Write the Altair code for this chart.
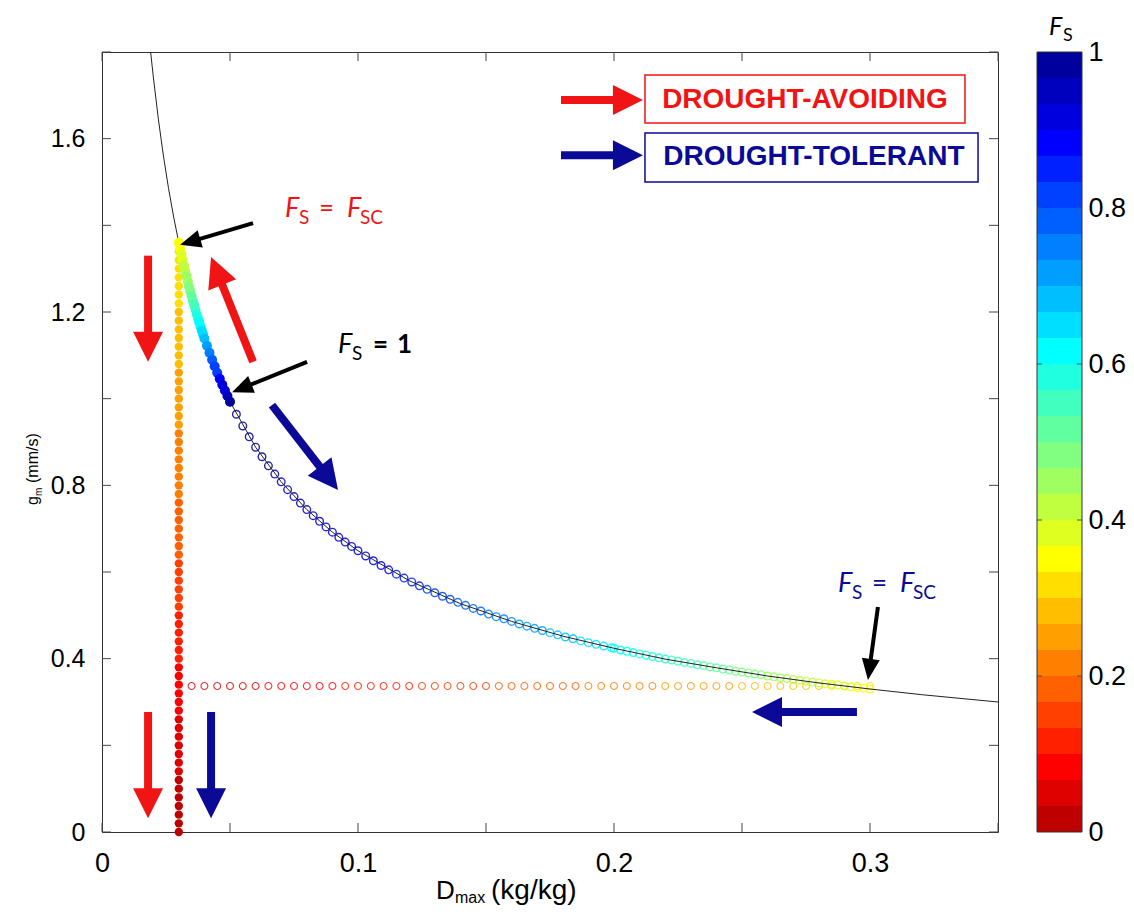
import math
import altair as alt
import pandas as pd

# ---------------- values ----------------
# colour map of the figure: MATLAB jet(30), flipped (F_S = 0 dark red ... F_S = 1 navy)
FS_COLORS = ["#bf0000", "#df0000", "#ff0000", "#ff2000", "#ff4000", "#ff6000",
             "#ff8000", "#ff9f00", "#ffbf00", "#ffdf00", "#ffff00", "#dfff20",
             "#bfff40", "#9fff60", "#80ff80", "#60ff9f", "#40ffbf", "#20ffdf",
             "#00ffff", "#00dfff", "#00bfff", "#009fff", "#0080ff", "#0060ff",
             "#0040ff", "#0020ff", "#0000ff", "#0000df", "#0000bf", "#00009f"]
CB_TICKS = [0, 0.2, 0.4, 0.6, 0.8, 1]

# thin black curve
CURVE_D = [0.019, 0.020, 0.022, 0.024, 0.026, 0.028, 0.030, 0.035, 0.040, 0.045,
           0.050, 0.060, 0.070, 0.080, 0.090, 0.100, 0.120, 0.140, 0.160, 0.180,
           0.200, 0.220, 0.240, 0.260, 0.280, 0.300, 0.320, 0.350]
CURVE_G = [1.800, 1.745, 1.646, 1.560, 1.485, 1.419, 1.360, 1.237, 1.139, 1.060,
           0.993, 0.888, 0.808, 0.744, 0.692, 0.649, 0.580, 0.527, 0.486, 0.452,
           0.424, 0.399, 0.379, 0.360, 0.344, 0.330, 0.317, 0.300]

# drought-avoiding: vertical column of filled dots at D = 0.03
COL_D = 0.030
COL_G = [1.36, 1.34, 1.32, 1.30, 1.28, 1.26, 1.24, 1.22, 1.20, 1.18, 1.16, 1.14,
         1.12, 1.10, 1.08, 1.06, 1.04, 1.02, 1.00, 0.98, 0.96, 0.94, 0.92, 0.90,
         0.88, 0.86, 0.84, 0.82, 0.80, 0.78, 0.76, 0.74, 0.72, 0.70, 0.68, 0.66,
         0.64, 0.62, 0.60, 0.58, 0.56, 0.54, 0.52, 0.50, 0.48, 0.46, 0.44, 0.42,
         0.40, 0.38, 0.36, 0.34, 0.32, 0.30, 0.28, 0.26, 0.24, 0.22, 0.20, 0.18,
         0.16, 0.14, 0.12, 0.10, 0.08, 0.06, 0.04, 0.02, 0.00]
COL_FS = [0.335, 0.330, 0.326, 0.321, 0.316, 0.311, 0.307, 0.302, 0.297, 0.292,
          0.288, 0.283, 0.278, 0.274, 0.269, 0.264, 0.259, 0.255, 0.250, 0.245,
          0.241, 0.236, 0.232, 0.227, 0.223, 0.218, 0.214, 0.209, 0.205, 0.200,
          0.196, 0.191, 0.187, 0.182, 0.178, 0.173, 0.169, 0.164, 0.160, 0.154,
          0.149, 0.143, 0.138, 0.132, 0.127, 0.121, 0.116, 0.110, 0.105, 0.099,
          0.094, 0.088, 0.083, 0.077, 0.072, 0.066, 0.061, 0.055, 0.050, 0.045,
          0.040, 0.035, 0.030, 0.025, 0.020, 0.015, 0.010, 0.005, 0.000]

# drought-avoiding: filled dots on the curve between F_S = F_SC and F_S = 1
BAND_D = [0.0300, 0.0305, 0.0310, 0.0315, 0.0320, 0.0325, 0.0330, 0.0335, 0.0340, 0.0345,
          0.0350, 0.0355, 0.0360, 0.0365, 0.0370, 0.0375, 0.0380, 0.0385, 0.0390, 0.0395,
          0.0400, 0.0410, 0.0420, 0.0430, 0.0440, 0.0450, 0.0460, 0.0470, 0.0480, 0.0490,
          0.0500]
BAND_G = [1.360, 1.346, 1.333, 1.320, 1.307, 1.295, 1.283, 1.271, 1.259, 1.248,
          1.237, 1.226, 1.216, 1.205, 1.195, 1.185, 1.176, 1.166, 1.157, 1.148,
          1.139, 1.122, 1.106, 1.090, 1.075, 1.060, 1.046, 1.032, 1.019, 1.006,
          0.993]
BAND_FS = [0.35, 0.365, 0.38, 0.395, 0.41, 0.425, 0.44, 0.46, 0.48, 0.495,
           0.51, 0.525, 0.54, 0.555, 0.57, 0.59, 0.61, 0.625, 0.64, 0.655,
           0.67, 0.70, 0.74, 0.77, 0.80, 0.83, 0.87, 0.90, 0.93, 0.96,
           0.99]

# drought-tolerant: open circles along the curve
TOL_D = [0.0500, 0.0525, 0.0550, 0.0575, 0.0600, 0.0625, 0.0650, 0.0675, 0.0700, 0.0725,
         0.0750, 0.0775, 0.0800, 0.0825, 0.0850, 0.0875, 0.0900, 0.0925, 0.0950, 0.0975,
         0.100, 0.103, 0.106, 0.109, 0.112, 0.115, 0.118, 0.121, 0.124, 0.127,
         0.130, 0.133, 0.136, 0.139, 0.142, 0.145, 0.148, 0.151, 0.154, 0.157,
         0.160, 0.163, 0.166, 0.169, 0.172, 0.175, 0.178, 0.181, 0.184, 0.187,
         0.190, 0.193, 0.196, 0.199,
         0.2000, 0.2025, 0.2050, 0.2075, 0.2100, 0.2125, 0.2150, 0.2175, 0.2200, 0.2225,
         0.2250, 0.2275, 0.2300, 0.2325, 0.2350, 0.2375, 0.2400, 0.2425, 0.2450, 0.2475,
         0.2500, 0.2525, 0.2550, 0.2575, 0.2600, 0.2625, 0.2650, 0.2675, 0.2700, 0.2725,
         0.2750, 0.2775, 0.2800, 0.2825, 0.2850, 0.2875, 0.2900, 0.2925, 0.2950, 0.2975,
         0.3000]
TOL_G = [0.993, 0.964, 0.937, 0.912, 0.888, 0.866, 0.845, 0.826, 0.808, 0.790,
         0.774, 0.759, 0.744, 0.730, 0.717, 0.704, 0.692, 0.680, 0.669, 0.659,
         0.649, 0.637, 0.626, 0.615, 0.605, 0.595, 0.586, 0.577, 0.568, 0.560,
         0.552, 0.544, 0.537, 0.530, 0.523, 0.516, 0.510, 0.503, 0.497, 0.492,
         0.486, 0.480, 0.475, 0.470, 0.465, 0.460, 0.455, 0.450, 0.446, 0.441,
         0.437, 0.433, 0.429, 0.425,
         0.424, 0.420, 0.417, 0.414, 0.411, 0.408, 0.405, 0.402, 0.399, 0.397,
         0.394, 0.391, 0.389, 0.386, 0.384, 0.381, 0.379, 0.376, 0.374, 0.371,
         0.369, 0.367, 0.365, 0.363, 0.360, 0.358, 0.356, 0.354, 0.352, 0.350,
         0.348, 0.346, 0.344, 0.342, 0.341, 0.339, 0.337, 0.335, 0.333, 0.332,
         0.330]
TOL_FS = [1.000, 0.995, 0.990, 0.985, 0.980, 0.975, 0.970, 0.965, 0.960, 0.955,
          0.950, 0.945, 0.940, 0.935, 0.930, 0.925, 0.920, 0.915, 0.910, 0.905,
          0.900, 0.892, 0.884, 0.875, 0.867, 0.859, 0.851, 0.842, 0.834, 0.826,
          0.818, 0.809, 0.801, 0.793, 0.785, 0.776, 0.768, 0.760, 0.752, 0.743,
          0.735, 0.727, 0.719, 0.710, 0.702, 0.694, 0.686, 0.677, 0.669, 0.661,
          0.653, 0.644, 0.636, 0.628,
          0.625, 0.618, 0.611, 0.604, 0.597, 0.591, 0.584, 0.577, 0.570, 0.563,
          0.556, 0.549, 0.542, 0.536, 0.529, 0.522, 0.515, 0.508, 0.501, 0.494,
          0.488, 0.481, 0.474, 0.467, 0.460, 0.453, 0.446, 0.439, 0.432, 0.426,
          0.419, 0.412, 0.405, 0.398, 0.391, 0.384, 0.377, 0.371, 0.364, 0.357,
          0.350]

# drought-tolerant: horizontal row of open circles at g = 0.337
ROW_G = 0.337
ROW_D = [0.035, 0.040, 0.045, 0.050, 0.055, 0.060, 0.065, 0.070, 0.075, 0.080,
         0.085, 0.090, 0.095, 0.100, 0.105, 0.110, 0.115, 0.120, 0.125, 0.130,
         0.135, 0.140, 0.145, 0.150, 0.155, 0.160, 0.165, 0.170, 0.175, 0.180,
         0.185, 0.190, 0.195, 0.200, 0.205, 0.210, 0.215, 0.220, 0.225, 0.230,
         0.235, 0.240, 0.245, 0.250, 0.255, 0.260, 0.265, 0.270, 0.275, 0.280,
         0.285, 0.290, 0.295, 0.300]
ROW_FS = [0.040, 0.045, 0.051, 0.056, 0.061, 0.066, 0.072, 0.077, 0.082, 0.088,
          0.093, 0.098, 0.103, 0.109, 0.114, 0.119, 0.125, 0.130, 0.135, 0.140,
          0.146, 0.151, 0.156, 0.162, 0.167, 0.172, 0.177, 0.183, 0.188, 0.193,
          0.199, 0.204, 0.209, 0.214, 0.220, 0.225, 0.230, 0.236, 0.241, 0.246,
          0.251, 0.257, 0.262, 0.267, 0.273, 0.278, 0.283, 0.288, 0.294, 0.299,
          0.304, 0.310, 0.315, 0.320]

X_TICKS = [0, 0.05, 0.10, 0.15, 0.20, 0.25, 0.30, 0.35]
Y_TICKS = [0, 0.2, 0.4, 0.6, 0.8, 1.0, 1.2, 1.4, 1.6, 1.8]
X_LABELS = [0, 0.1, 0.2, 0.3]
Y_LABELS = [0, 0.4, 0.8, 1.2, 1.6]

RED = "#f01414"
NAVY = "#0a0a96"
BLACK = "#000000"

# annotation arrows: tail (D, g) -> tip (D, g)
ARROWS = [
    (0.0180, 1.330, 0.0180, 1.085, RED, "big"),
    (0.0590, 1.085, 0.0426, 1.327, RED, "big"),
    (0.0590, 1.405, 0.0305, 1.355, BLACK, "small"),
    (0.0801, 1.085, 0.0508, 1.015, BLACK, "small"),
    (0.0664, 0.985, 0.0922, 0.789, NAVY, "big"),
    (0.3031, 0.519, 0.2992, 0.351, BLACK, "small"),
    (0.2949, 0.277, 0.2539, 0.277, NAVY, "big"),
    (0.0180, 0.277, 0.0180, 0.032, RED, "big"),
    (0.0426, 0.277, 0.0426, 0.032, NAVY, "big"),
    (0.1793, 1.689, 0.2113, 1.689, RED, "big"),
    (0.1793, 1.562, 0.2113, 1.562, NAVY, "big"),
]
LEGEND_LABELS = ["DROUGHT-AVOIDING", "DROUGHT-TOLERANT"]
LEGEND_COLORS = [RED, NAVY]

# ---------------- layout / styles ----------------
W, H = 896, 780
XMAX, YMAX = 0.35, 1.8
PX_X, PX_Y = W / XMAX, H / YMAX
ARROW_STYLE = {"big": (8, 30, 30), "small": (4, 21, 18)}  # shaft, head length, head width
FRAME = "#333333"
AXFONT = "Liberation Sans"
EQFONT = "Lato"

x_scale = alt.Scale(domain=[0, XMAX], nice=False, zero=False)
y_scale = alt.Scale(domain=[0, YMAX], nice=False, zero=False)
c_scale = alt.Scale(type="quantize", domain=[0, 1], range=FS_COLORS)
cb_scale = alt.Scale(domain=[0, 1], nice=False, zero=False)

x_axis = alt.Axis(values=X_LABELS, format="~g", title=None, grid=False, domain=False,
                  ticks=False, tickSize=0, labelFontSize=27, labelPadding=18,
                  labelFont=AXFONT, labelColor="#000", labelFlush=False)
y_axis = alt.Axis(values=Y_LABELS, format="~g", title=None, grid=False, domain=False,
                  ticks=False, tickSize=0, labelFontSize=25, labelPadding=17,
                  labelFont=AXFONT, labelColor="#000", labelFlush=False)
cb_axis = alt.Axis(values=CB_TICKS, format="~g", orient="right", offset=84, title=None,
                   grid=False, domain=False, ticks=False, tickSize=0, labelFontSize=27,
                   labelPadding=6, labelFont=AXFONT, labelColor="#000", labelFlush=False)


def X(f):
    return alt.X(f"{f}:Q", scale=x_scale, axis=x_axis)


def Y(f):
    return alt.Y(f"{f}:Q", scale=y_scale, axis=y_axis)


fs_color = alt.Color("Fs:Q", scale=c_scale, legend=None)

curve_df = pd.DataFrame({"D": CURVE_D, "g": CURVE_G})
col_df = pd.DataFrame({"D": [COL_D] * len(COL_G), "g": COL_G, "Fs": COL_FS})
band_df = pd.DataFrame({"D": BAND_D, "g": BAND_G, "Fs": BAND_FS})
tol_df = pd.DataFrame({"D": TOL_D, "g": TOL_G, "Fs": TOL_FS})
row_df = pd.DataFrame({"D": ROW_D, "g": [ROW_G] * len(ROW_D), "Fs": ROW_FS})

row = alt.Chart(row_df).mark_point(filled=False, size=48, strokeWidth=1.1, opacity=0.8).encode(
    x=X("D"), y=Y("g"), color=fs_color)
tol = alt.Chart(tol_df).mark_point(filled=False, size=58, strokeWidth=1.4, opacity=0.85).encode(
    x=X("D"), y=Y("g"), color=fs_color)
line = alt.Chart(curve_df).mark_line(color="#222222", strokeWidth=1).encode(
    x=X("D"), y=Y("g"))
col = alt.Chart(col_df).mark_circle(size=70, opacity=1).encode(
    x=X("D"), y=Y("g"), color=fs_color)
band = alt.Chart(band_df).mark_circle(size=100, opacity=1).encode(
    x=X("D"), y=Y("g"), color=fs_color)

# inward ticks on all four sides
xt_df = pd.DataFrame({"t": X_TICKS})
yt_df = pd.DataFrame({"t": Y_TICKS})
tick_style = dict(color="#444444", strokeWidth=1)
ticks = [
    alt.Chart(xt_df).mark_rule(**tick_style).encode(x=X("t"), y=alt.value(H), y2=alt.value(H - 9)),
    alt.Chart(xt_df).mark_rule(**tick_style).encode(x=X("t"), y=alt.value(0), y2=alt.value(9)),
    alt.Chart(yt_df).mark_rule(**tick_style).encode(y=Y("t"), x=alt.value(0), x2=alt.value(9)),
    alt.Chart(yt_df).mark_rule(**tick_style).encode(y=Y("t"), x=alt.value(W - 9), x2=alt.value(W)),
]

# arrows: shaft (rule) + head (custom triangle symbol)
shaft_rows, head_rows = [], []
for tx, ty, hx, hy, colr, kind in ARROWS:
    sw, hl, hw = ARROW_STYLE[kind]
    dxp = (hx - tx) * PX_X
    dyp = (ty - hy) * PX_Y
    L = math.hypot(dxp, dyp)
    ux, uy = dxp / L, dyp / L
    back = hl - 2
    bx = hx - ux * back / PX_X
    by = hy + uy * back / PX_Y
    shaft_rows.append({"x": tx, "y": ty, "x2": bx, "y2": by, "color": colr, "sw": sw})
    ang = (math.degrees(math.atan2(ux, -uy)) + 360) % 360
    half = hw / hl / 2
    head_rows.append({"x": hx, "y": hy, "color": colr, "angle": ang,
                      "shape": f"M0,0L{half:.3f},1L{-half:.3f},1Z", "size": 4 * hl * hl})

shafts = alt.Chart(pd.DataFrame(shaft_rows)).mark_rule(strokeCap="butt").encode(
    x=X("x"), y=Y("y"), x2="x2:Q", y2="y2:Q",
    color=alt.Color("color:N", scale=None),
    strokeWidth=alt.StrokeWidth("sw:Q", scale=None))
heads = alt.Chart(pd.DataFrame(head_rows)).mark_point(filled=True, opacity=1, strokeWidth=0).encode(
    x=X("x"), y=Y("y"),
    color=alt.Color("color:N", scale=None),
    shape=alt.Shape("shape:N", scale=None),
    size=alt.Size("size:Q", scale=None),
    angle=alt.Angle("angle:Q", scale=None))

# legend boxes
box_df = pd.DataFrame({"x": [0.2121, 0.2121], "x2": [0.3371, 0.3422],
                       "y": [1.747, 1.613], "y2": [1.636, 1.500], "color": LEGEND_COLORS})
boxes = alt.Chart(box_df).mark_rect(fill="white", strokeWidth=1.5).encode(
    x=X("x"), x2="x2:Q", y=Y("y"), y2="y2:Q", stroke=alt.Stroke("color:N", scale=None))
lt_df = pd.DataFrame({"x": [0.2746, 0.2781], "y": [1.689, 1.558],
                      "label": LEGEND_LABELS, "color": LEGEND_COLORS})
legend_text = alt.Chart(lt_df).mark_text(font=AXFONT, fontWeight="bold", fontSize=28,
                                         align="center", baseline="middle").encode(
    x=X("x"), y=Y("y"), text="label:N", color=alt.Color("color:N", scale=None))


# equation labels
def piece(x, y, txt, dx, dy, size, color, italic=False, bold=False):
    kw = dict(text=txt, dx=dx, dy=dy, fontSize=size, color=color, font=EQFONT,
              align="left", baseline="alphabetic")
    if italic:
        kw["fontStyle"] = "italic"
    if bold:
        kw["fontWeight"] = "bold"
    return alt.Chart(pd.DataFrame({"x": [x], "y": [y]})).mark_text(**kw).encode(
        x=X("x"), y=Y("y"))


def fs_eq(x, y, color):
    return [piece(x, y, "F", 0, 0, 27, color, italic=True),
            piece(x, y, "S", 14, 7, 19, color),
            piece(x, y, "=", 34, 0, 26, color),
            piece(x, y, "F", 62, 0, 27, color, italic=True),
            piece(x, y, "SC", 75, 7, 19, color)]


eqs = fs_eq(0.0715, 1.419, RED) + fs_eq(0.2875, 0.554, NAVY) + [
    piece(0.0922, 1.105, "F", 0, 0, 27, BLACK, italic=True),
    piece(0.0922, 1.105, "S", 14, 7, 19, BLACK),
    piece(0.0922, 1.105, "=", 35, 0, 26, BLACK, bold=True),
    piece(0.0922, 1.105, "1", 59, 0, 26, BLACK, bold=True),
]

# axis titles (with subscripts) as text
ONE = alt.Data(values=[{"a": 1}])


def ptext(txt, x, y, size, angle=0, dx=0, dy=0, font=AXFONT, italic=False):
    kw = dict(text=txt, fontSize=size, dx=dx, dy=dy, font=font, color="#000",
              align="left", baseline="alphabetic", angle=angle)
    if italic:
        kw["fontStyle"] = "italic"
    return alt.Chart(ONE).mark_text(**kw).encode(x=alt.value(x), y=alt.value(y))


XT_X, XT_Y = 334, H + 67
titles = [
    ptext("D", XT_X, XT_Y, 26),
    ptext("max", XT_X, XT_Y, 16, dx=19, dy=4),
    ptext("(kg/kg)", XT_X, XT_Y, 28, dx=55),
    ptext("g", -64, 453, 16, angle=270),
    ptext("m", -64, 453, 10, angle=270, dx=9, dy=4),
    ptext("(mm/s)", -64, 453, 16, angle=270, dx=22),
]

main = alt.layer(row, tol, line, col, band, *ticks, boxes, legend_text, shafts, heads,
                 *eqs, *titles)

# colour bar
n = len(FS_COLORS)
cb_df = pd.DataFrame({"lo": [i / n for i in range(n)], "hi": [(i + 1) / n for i in range(n)],
                      "mid": [(i + 0.5) / n for i in range(n)]})
cb_rect = alt.Chart(cb_df).mark_rect(strokeWidth=0).encode(
    x=alt.value(935), x2=alt.value(980),
    y=alt.Y("lo:Q", scale=cb_scale, axis=cb_axis), y2="hi:Q",
    color=alt.Color("mid:Q", scale=c_scale, legend=None))
cb_border = alt.Chart(alt.Data(values=[{"lo": 0, "hi": 1}])).mark_rect(
    fillOpacity=0, stroke="#333333", strokeWidth=1).encode(
    x=alt.value(935), x2=alt.value(980),
    y=alt.Y("lo:Q", scale=cb_scale, axis=cb_axis), y2="hi:Q")
cbt_df = pd.DataFrame({"t": CB_TICKS[1:-1]})
cb_tl = alt.Chart(cbt_df).mark_rule(color="#555555", strokeWidth=1).encode(
    y=alt.Y("t:Q", scale=cb_scale, axis=cb_axis), x=alt.value(935), x2=alt.value(940))
cb_tr = alt.Chart(cbt_df).mark_rule(color="#555555", strokeWidth=1).encode(
    y=alt.Y("t:Q", scale=cb_scale, axis=cb_axis), x=alt.value(975), x2=alt.value(980))
cb_title = [ptext("F", 947, -17, 25, font=EQFONT, italic=True),
            ptext("S", 947, -17, 18, dx=14, dy=6, font=EQFONT)]
cbar = alt.layer(cb_rect, cb_tl, cb_tr, cb_border, *cb_title)

chart = alt.layer(main, cbar).resolve_scale(y="independent").properties(
    width=W, height=H,
    autosize=alt.AutoSizeParams(type="none"),
    padding={"left": 94, "top": 44, "right": 128, "bottom": 78},
).configure_view(stroke=FRAME, strokeWidth=1)

chart.save("out.html", embed_options={"renderer": "svg", "actions": False})
